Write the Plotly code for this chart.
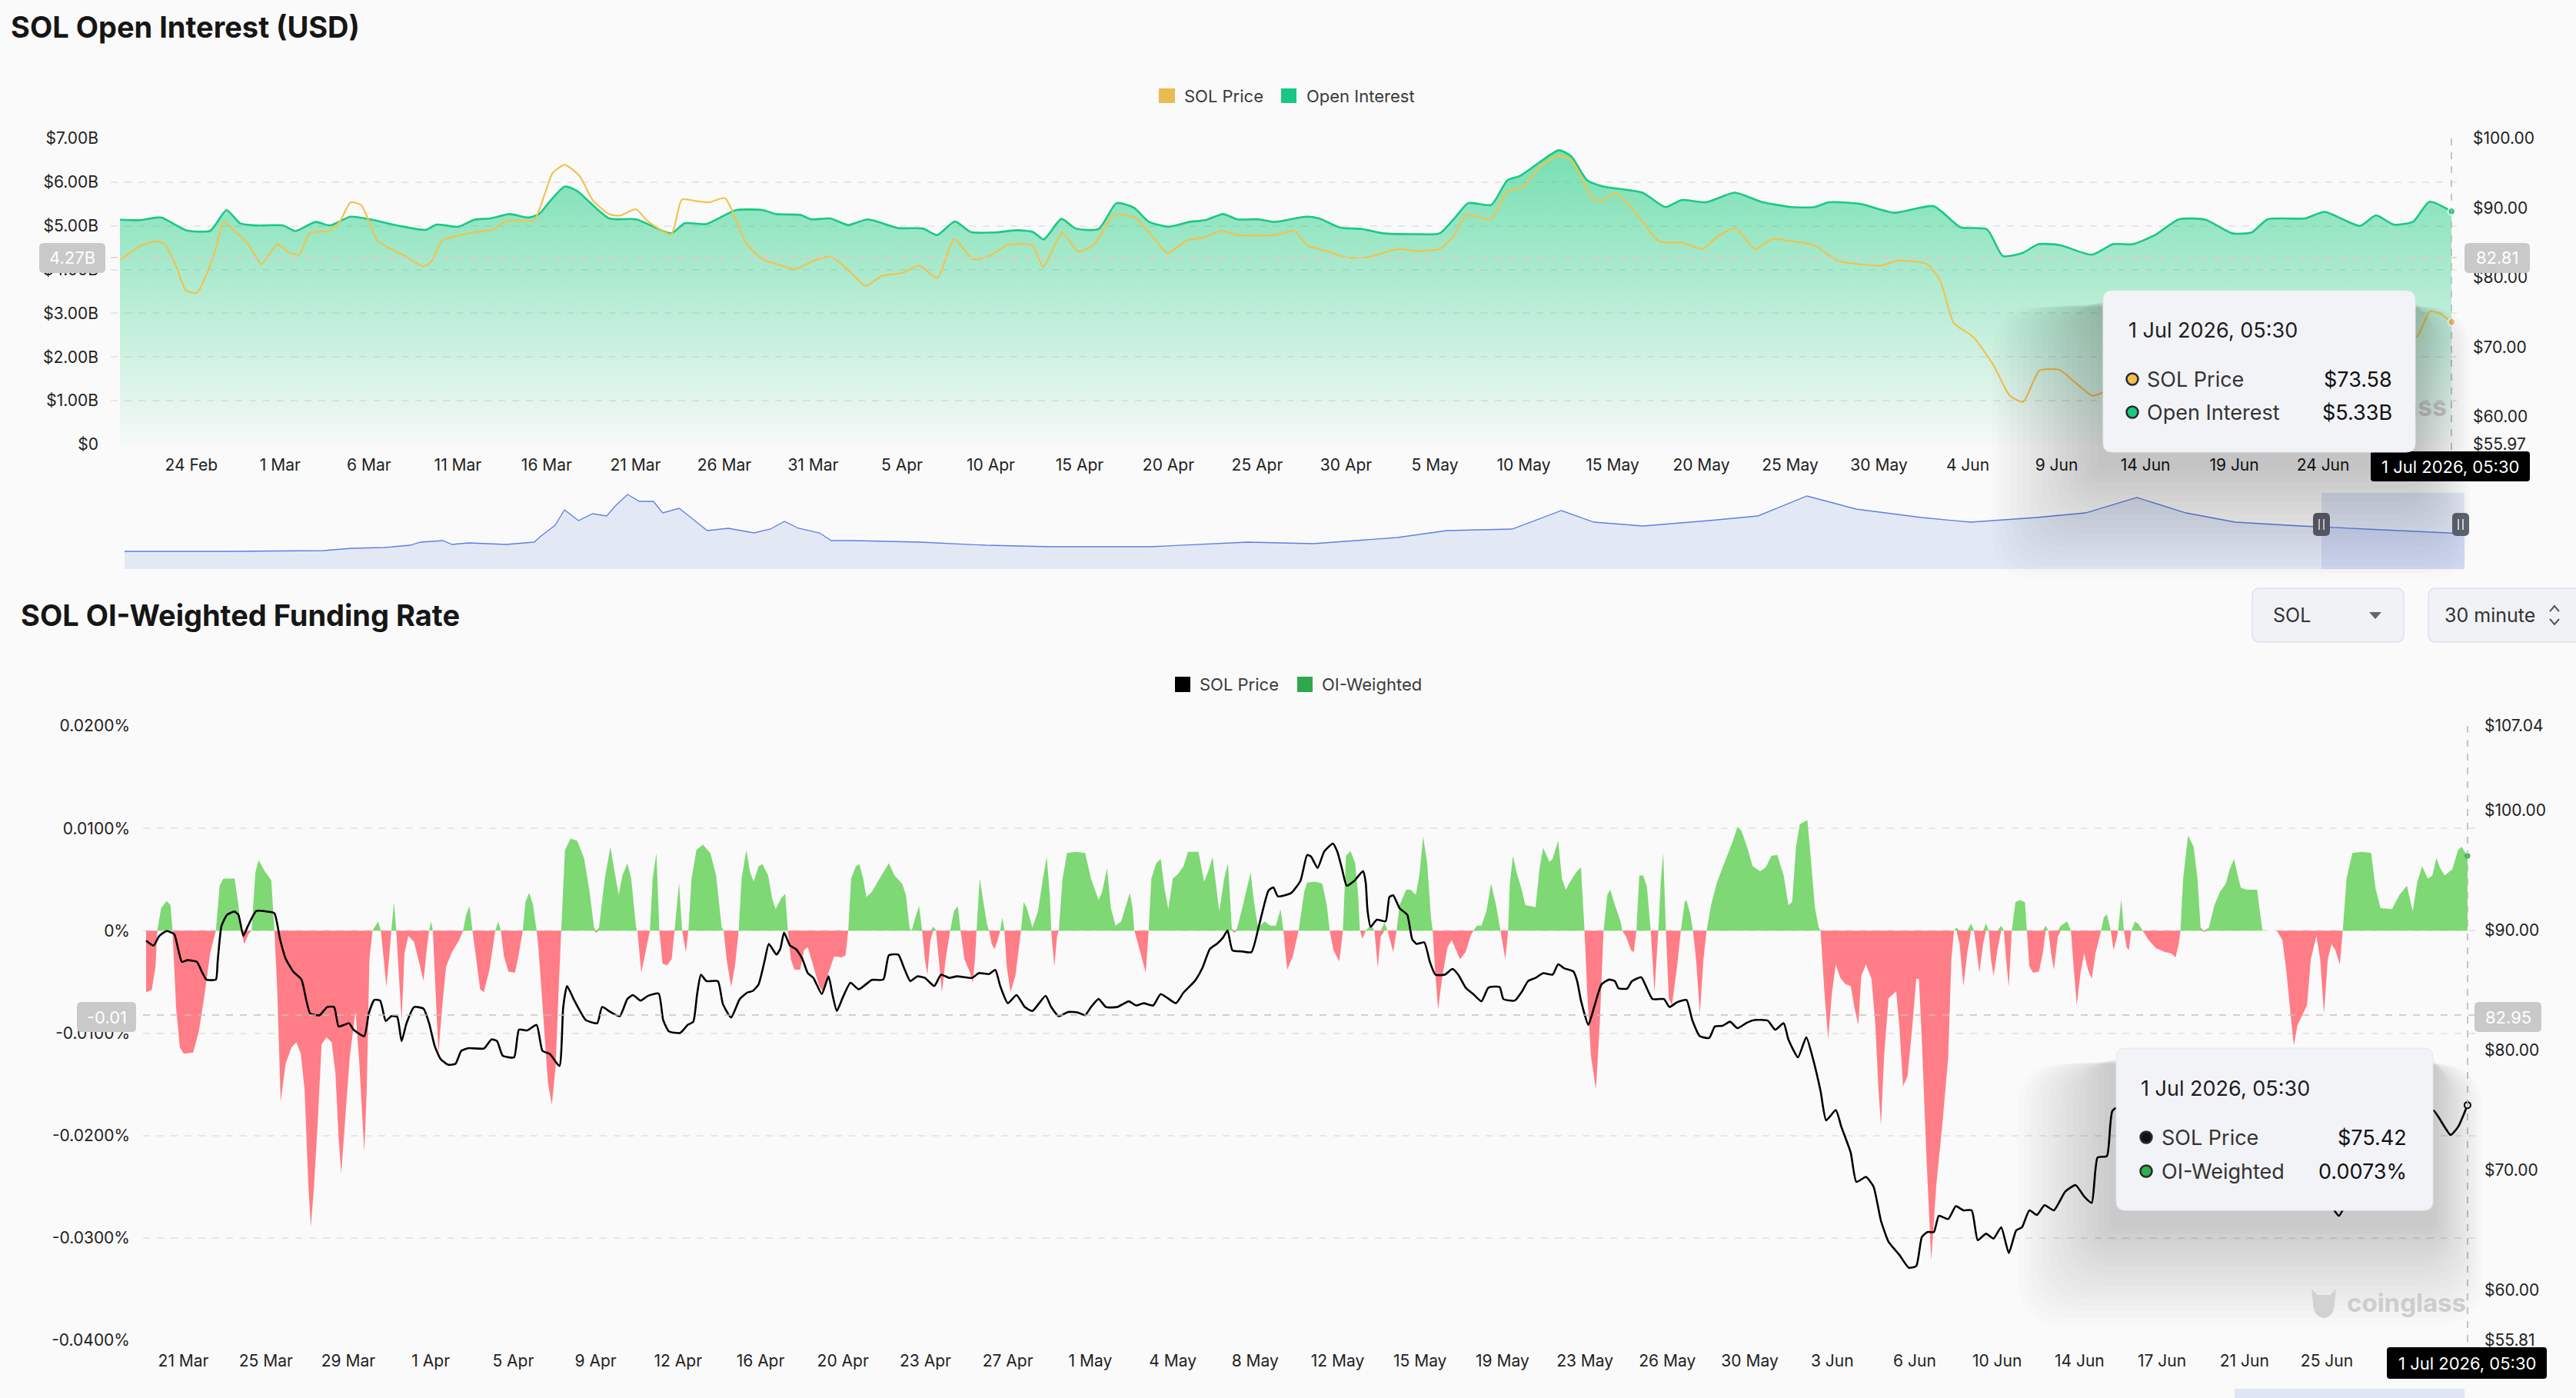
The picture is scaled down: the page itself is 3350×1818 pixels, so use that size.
import plotly.graph_objects as go
import pandas as pd

W, H = 3350, 1818
FONT = "Inter, Noto Sans, Roboto, sans-serif"


def X(px):
    return px / W


def Y(py):
    return 1 - py / H


# ============================ DATA ============================
# --- SOL Open Interest chart (days since OI_START) ---
OI_START = pd.Timestamp("2026-02-19 23:30")
OI_END = pd.Timestamp("2026-07-01 05:30")

oi_days = [0.0, 1.14, 2.05, 2.36, 3.72, 5.09, 6.0, 6.76, 7.66, 9.18,
           9.88, 11.0, 11.82, 12.98, 14.19, 15.71, 17.23, 17.83, 19.04, 19.95,
           20.86, 21.93, 22.99, 23.59, 24.2, 25.04, 25.72, 27.54, 29.06, 31.03,
           31.79, 33.0, 34.67, 36.19, 36.94, 38.31, 38.92, 39.98, 41.0, 42.1,
           43.8, 45.2, 46.0, 47.0, 47.9, 49.3, 50.5, 51.4, 52.0, 53.0,
           53.8, 55.1, 56.1, 57.1, 57.9, 59.0, 60.2, 61.1, 62.1, 62.9,
           64.1, 65.0, 66.8, 67.5, 68.7, 69.9, 71.1, 72.9, 74.3, 75.2,
           75.9, 77.2, 78.1, 78.8, 79.9, 81.0, 81.7, 82.6, 83.5, 85.7,
           87.0, 87.9, 89.3, 90.9, 92.4, 94.1, 95.4, 96.2, 98.0, 99.9,
           102.1, 103.6, 105.1, 106.0, 107.1, 108.0, 109.2, 111.0, 112.2, 113.3,
           114.6, 115.9, 117.4, 118.9, 120.0, 120.9, 123.0, 124.1, 126.1, 127.0,
           128.0, 129.1, 130.0, 131.25]
oi_billion = [5.14, 5.13, 5.19, 5.19, 4.90, 4.89, 5.36, 5.06, 5.01, 5.01,
              4.88, 5.09, 5.01, 5.21, 5.14, 5.00, 4.91, 5.03, 4.98, 5.14,
              5.17, 5.27, 5.19, 5.27, 5.56, 5.90, 5.80, 5.17, 5.15, 4.83,
              5.06, 5.04, 5.36, 5.36, 5.27, 5.25, 5.15, 5.17, 5.02, 5.15,
              4.95, 4.94, 4.79, 5.10, 4.86, 4.85, 4.90, 4.86, 4.69, 5.16,
              4.94, 4.93, 5.52, 5.41, 5.10, 4.98, 5.09, 5.13, 5.27, 5.15,
              5.15, 5.09, 5.21, 5.17, 4.96, 4.93, 4.83, 4.81, 4.83, 5.21,
              5.52, 5.48, 6.04, 6.14, 6.45, 6.73, 6.59, 6.04, 5.90, 5.76,
              5.43, 5.59, 5.54, 5.76, 5.55, 5.43, 5.43, 5.54, 5.50, 5.30,
              5.45, 4.97, 4.92, 4.31, 4.38, 4.58, 4.56, 4.34, 4.58, 4.58,
              4.80, 5.15, 5.14, 4.83, 4.85, 5.15, 5.17, 5.32, 5.00, 5.24,
              5.03, 5.10, 5.55, 5.33]

price_oi_days = [0.0, 1.14, 2.05, 2.51, 3.12, 3.72, 4.33, 4.93, 5.39, 5.85,
                 6.45, 7.21, 7.97, 8.42, 8.88, 9.49, 10.09, 10.7, 11.76, 12.37,
                 12.98, 13.58, 14.49, 15.25, 16.01, 17.07, 17.53, 18.13, 19.04, 19.95,
                 21.01, 21.78, 23.29, 23.9, 24.35, 25.04, 25.87, 26.62, 27.54, 28.14,
                 29.06, 29.66, 31.03, 31.63, 32.39, 33.15, 34.06, 34.67, 35.28, 36.19,
                 37.25, 38.0, 39.07, 39.98, 40.9, 41.97, 42.88, 44.09, 45.0, 46.0,
                 46.97, 48.03, 48.95, 50.0, 51.37, 51.98, 53.04, 53.95, 54.87, 55.93,
                 57.15, 58.06, 58.97, 60.03, 61.09, 62.0, 62.91, 65.04, 66.1, 66.86,
                 68.07, 68.98, 70.19, 72.02, 72.93, 74.29, 75.05, 75.81, 77.18, 78.09,
                 79.0, 79.91, 80.97, 81.73, 82.95, 83.4, 84.2, 85.35, 86.65, 87.95,
                 89.07, 90.0, 90.93, 92.05, 92.98, 94.66, 95.4, 96.7, 99.12, 100.06,
                 101.73, 102.48, 103.22, 104.34, 105.46, 106.39, 107.13, 108.06, 109.18, 110.11,
                 111.04, 111.7, 112.7, 113.4, 113.7, 114.1, 114.4, 114.7, 115.1, 115.4,
                 116.0, 117.0, 118.0, 119.0, 120.0, 121.0, 122.0, 123.0, 124.0, 125.0,
                 125.5, 126.0, 127.0, 128.0, 129.3, 130.03, 130.6, 131.25]
price_oi = [82.5, 84.5, 85.2, 84.8, 81.9, 78.1, 77.8, 80.8, 84.1, 88.0,
            86.7, 84.8, 81.9, 83.4, 84.8, 83.6, 83.3, 86.4, 86.7, 88.0,
            90.8, 90.4, 85.3, 84.1, 83.1, 81.6, 82.3, 85.3, 86.0, 86.5,
            86.9, 88.2, 88.2, 91.9, 95.0, 96.2, 94.6, 91.1, 89.1, 88.9,
            89.8, 88.2, 86.2, 91.2, 91.0, 90.8, 91.4, 88.3, 84.8, 82.6,
            81.7, 81.2, 82.4, 83.0, 81.3, 78.8, 80.2, 80.7, 81.7, 79.9,
            85.5, 82.6, 83.1, 84.7, 84.6, 81.5, 86.4, 83.7, 84.8, 89.0,
            88.6, 86.1, 83.5, 85.3, 85.8, 86.7, 86.1, 86.1, 86.7, 84.6,
            83.7, 82.9, 82.9, 84.1, 83.8, 84.1, 85.9, 89.0, 88.4, 92.4,
            93.0, 95.9, 97.5, 96.8, 91.2, 91.0, 92.1, 89.2, 85.2, 85.0,
            84.1, 86.0, 87.1, 84.1, 85.5, 85.0, 84.6, 82.4, 81.7, 82.4,
            81.9, 79.5, 73.5, 71.4, 67.4, 63.0, 62.1, 66.6, 66.7, 64.8,
            63.0, 63.6, 66.7, 68.2, 68.7, 67.8, 67.3, 71.0, 71.2, 74.5,
            75.3, 73.8, 75.5, 74.0, 75.8, 74.5, 72.8, 73.5, 70.5, 68.0,
            66.0, 67.5, 70.0, 71.5, 71.5, 75.1, 74.8, 73.58]

# navigator (long OI history, position in % of timeline, relative level)
nav_history = [(0.0, 0.23), (4.5, 0.23), (8.5, 0.24), (9.7, 0.27), (11.1, 0.28), (12.2, 0.31),
               (12.65, 0.35), (13.6, 0.37), (14.0, 0.32), (14.7, 0.34), (16.3, 0.32), (17.5, 0.35),
               (17.8, 0.43), (18.4, 0.57), (18.8, 0.77), (19.4, 0.63), (20.0, 0.72), (20.6, 0.69),
               (21.0, 0.83), (21.5, 0.97), (22.0, 0.88), (22.6, 0.88), (23.0, 0.73), (23.7, 0.79),
               (24.2, 0.67), (24.9, 0.50), (25.8, 0.53), (26.9, 0.47), (27.6, 0.52), (28.2, 0.62),
               (28.8, 0.53), (29.7, 0.47), (30.2, 0.37), (31.2, 0.37), (34.0, 0.35), (36.8, 0.31),
               (39.6, 0.29), (43.8, 0.29), (48.0, 0.35), (50.8, 0.33), (54.4, 0.41), (56.5, 0.50),
               (59.3, 0.52), (61.4, 0.76), (62.8, 0.61), (64.9, 0.56), (67.7, 0.63), (69.8, 0.69),
               (71.9, 0.95), (74.0, 0.78), (76.8, 0.67), (78.9, 0.61), (81.7, 0.67), (83.8, 0.73),
               (86.0, 0.93), (88.1, 0.73), (90.2, 0.61), (93.0, 0.56), (95.8, 0.52), (98.6, 0.48),
               (100.0, 0.46)]

# --- SOL OI-Weighted Funding Rate chart (days since FR_START, rate in %) ---
FR_START = pd.Timestamp("2026-03-19 09:00")
FR_END = pd.Timestamp("2026-07-01 05:30")

funding = [
    (0.00, -0.0060), (0.25, -0.0058), (0.42, -0.0035), (0.50, 0), (0.67, 0.0022), (0.92, 0.0029),
    (1.09, 0.0025), (1.18, 0), (1.345, -0.0076), (1.51, -0.0114), (1.68, -0.0120), (2.105, -0.0119),
    (2.36, -0.0098), (2.61, -0.0063), (2.865, -0.0022), (3.12, 0), (3.29, 0.0044), (3.46, 0.0051),
    (3.96, 0.0051), (4.13, 0.0025), (4.25, 0), (4.39, -0.0013), (4.59, -0.0003), (4.72, 0),
    (4.89, 0.0057), (5.03, 0.0069), (5.31, 0.0058), (5.60, 0.0049), (5.74, 0), (5.87, -0.0060),
    (6.02, -0.0167), (6.24, -0.0130), (6.50, -0.0114), (6.72, -0.0109), (6.92, -0.0120), (7.09, -0.0155),
    (7.26, -0.0250), (7.37, -0.0289), (7.51, -0.0250), (7.68, -0.0186), (7.85, -0.0111), (8.07, -0.0104),
    (8.30, -0.0109), (8.47, -0.0139), (8.61, -0.0202), (8.73, -0.0237), (8.91, -0.0186), (9.11, -0.0123),
    (9.37, -0.0079), (9.54, -0.0130), (9.76, -0.0216), (9.87, -0.0155), (9.99, -0.0028), (10.13, 0),
    (10.38, 0.0009), (10.50, 0), (10.63, -0.0028), (10.75, -0.0055), (10.89, -0.0022), (10.97, 0),
    (11.09, 0.0028), (11.19, 0), (11.31, -0.0044), (11.43, -0.0088), (11.56, -0.0022), (11.73, -0.0005),
    (11.99, -0.0011), (12.24, -0.0035), (12.41, -0.0049), (12.58, -0.0013), (12.66, 0), (12.75, 0.0009),
    (12.83, 0), (12.95, -0.0060), (13.08, -0.0120), (13.25, -0.0073), (13.42, -0.0035), (13.68, -0.0021),
    (14.01, -0.0009), (14.18, 0), (14.32, 0.0016), (14.47, 0.0024), (14.60, 0), (14.77, -0.0028),
    (14.94, -0.0057), (15.11, -0.0060), (15.36, -0.0038), (15.62, 0), (15.75, 0.0009), (15.87, 0),
    (16.01, -0.0025), (16.21, -0.0040), (16.50, -0.0041), (16.63, -0.0028), (16.85, 0), (16.97, 0.0028),
    (17.14, 0.0037), (17.31, 0.0025), (17.47, 0), (17.56, -0.0019), (17.81, -0.0092), (17.98, -0.0149),
    (18.15, -0.0170), (18.32, -0.0133), (18.45, -0.0060), (18.57, 0), (18.74, 0.0079), (18.99, 0.0090),
    (19.28, 0.0088), (19.59, 0.0071), (19.84, 0.0038), (20.04, 0.0003), (20.14, -0.0002), (20.26, 0.0003),
    (20.52, 0.0051), (20.77, 0.0082), (20.94, 0.0060), (21.14, 0.0035), (21.31, 0.0054), (21.53, 0.0066),
    (21.70, 0.0051), (21.92, 0.0003), (21.98, 0), (22.15, -0.0041), (22.37, -0.0019), (22.54, 0),
    (22.66, 0.0051), (22.83, 0.0076), (22.96, 0), (23.10, -0.0032), (23.30, -0.0034), (23.51, -0.0028),
    (23.64, 0), (23.84, 0.0047), (23.98, 0), (24.15, -0.0021), (24.26, 0), (24.40, 0.0051),
    (24.62, 0.0079), (24.91, 0.0084), (25.24, 0.0076), (25.50, 0.0054), (25.75, 0.0003), (25.84, 0),
    (25.97, -0.0028), (26.17, -0.0055), (26.34, -0.0035), (26.51, 0), (26.64, 0.0051), (26.85, 0.0079),
    (27.02, 0.0057), (27.18, 0.0048), (27.40, 0.0063), (27.57, 0.0065), (27.83, 0.0054), (28.00, 0.0032),
    (28.16, 0.0021), (28.42, 0.0032), (28.59, 0.0036), (28.71, 0), (28.84, -0.0028), (29.01, -0.0038),
    (29.26, -0.0038), (29.43, -0.0019), (29.60, -0.0016), (29.85, -0.0035), (30.11, -0.0054), (30.28, -0.0060),
    (30.53, -0.0041), (30.78, -0.0025), (31.12, -0.0026), (31.29, -0.0024), (31.41, 0), (31.54, 0.0051),
    (31.75, 0.0063), (31.91, 0.0065), (32.08, 0.0051), (32.22, 0.0033), (32.47, 0.0038), (32.81, 0.0051),
    (33.06, 0.0060), (33.23, 0.0066), (33.48, 0.0054), (33.82, 0.0046), (33.99, 0.0035), (34.16, 0.0002),
    (34.25, 0), (34.41, 0.0013), (34.58, 0.0024), (34.72, 0), (34.84, -0.0028), (34.95, -0.0043),
    (35.09, -0.0009), (35.22, 0.0004), (35.34, 0), (35.46, -0.0028), (35.60, -0.0060), (35.77, -0.0028),
    (35.97, 0), (36.14, 0.0019), (36.31, 0.0024), (36.44, 0), (36.61, -0.0028), (36.86, -0.0041),
    (36.98, -0.0051), (37.08, -0.0028), (37.15, 0), (37.29, 0.0051), (37.45, 0.0028), (37.62, 0.0006),
    (37.71, 0), (37.83, -0.0013), (37.96, -0.0018), (38.10, -0.0009), (38.21, 0), (38.30, 0.0013),
    (38.40, 0), (38.50, -0.0035), (38.67, -0.0060), (38.89, -0.0044), (39.06, -0.0013), (39.14, 0),
    (39.26, 0.0028), (39.40, 0.0022), (39.65, 0.0003), (39.90, 0.0019), (40.12, 0.0051), (40.29, 0.0072),
    (40.43, 0.0035), (40.49, 0), (40.63, -0.0035), (40.75, -0.0006), (40.83, 0), (41.00, 0.0051),
    (41.20, 0.0076), (41.59, 0.0077), (42.01, 0.0076), (42.27, 0.0051), (42.61, 0.0030), (42.77, 0.0038),
    (42.99, 0.0061), (43.16, 0.0022), (43.37, 0.0005), (43.62, 0.0009), (43.84, 0.0025), (44.01, 0.0037),
    (44.13, 0.0022), (44.21, 0), (44.38, -0.0013), (44.55, -0.0028), (44.72, -0.0041), (44.85, 0),
    (44.97, 0.0051), (45.19, 0.0066), (45.39, 0.0070), (45.56, 0.0041), (45.73, 0.0021), (45.93, 0.0051),
    (46.15, 0.0055), (46.41, 0.0063), (46.61, 0.0077), (47.08, 0.0077), (47.33, 0.0048), (47.50, 0.0057),
    (47.71, 0.0072), (47.84, 0.0047), (48.01, 0.0019), (48.23, 0.0051), (48.40, 0.0066), (48.57, 0.0002),
    (48.70, -0.0002), (48.80, 0.0002), (49.07, 0.0025), (49.41, 0.0057), (49.58, 0.0025), (49.75, 0.0003),
    (50.04, 0.0009), (50.29, 0.0005), (50.54, 0.0005), (50.75, 0.0021), (50.88, 0), (51.05, -0.0038),
    (51.30, -0.0025), (51.56, 0), (51.81, 0.0038), (51.94, 0.0047), (52.28, 0.0048), (52.62, 0.0046),
    (52.82, 0.0025), (52.95, 0), (53.12, -0.0019), (53.38, -0.0030), (53.54, 0), (53.68, 0.0073),
    (53.88, 0.0078), (54.09, 0.0066), (54.22, 0.0035), (54.30, 0), (54.42, -0.0008), (54.56, 0),
    (54.81, 0.0006), (54.95, 0), (55.10, -0.0036), (55.23, -0.0006), (55.40, 0.0008), (55.54, 0),
    (55.79, -0.0021), (55.94, 0), (56.08, 0.0025), (56.37, 0.0040), (56.58, 0.0040), (56.80, 0.0035),
    (56.96, 0.0054), (57.13, 0.0092), (57.31, 0.0066), (57.48, 0.0013), (57.56, 0), (57.68, -0.0044),
    (57.80, -0.0077), (57.97, -0.0047), (58.22, -0.0016), (58.41, -0.0009), (58.61, -0.0019), (58.78, -0.0028),
    (59.03, -0.0021), (59.24, -0.0006), (59.37, 0), (59.54, 0.0005), (59.74, 0.0005), (59.96, 0.0019),
    (60.17, 0.0046), (60.39, 0.0025), (60.59, 0), (60.69, -0.0013), (60.81, -0.0028), (60.93, 0),
    (61.01, 0.0047), (61.15, 0.0073), (61.31, 0.0057), (61.53, 0.0041), (61.70, 0.0025), (62.16, 0.0023),
    (62.33, 0.0060), (62.50, 0.0081), (62.78, 0.0067), (62.92, 0.0070), (63.17, 0.0088), (63.34, 0.0051),
    (63.51, 0.0040), (63.68, 0.0047), (63.97, 0.0057), (64.19, 0.0062), (64.35, 0), (64.47, -0.0060),
    (64.64, -0.0123), (64.86, -0.0155), (65.03, -0.0092), (65.20, 0), (65.37, 0.0035), (65.50, 0.0040),
    (65.71, 0.0025), (65.96, 0.0009), (66.04, 0), (66.21, -0.0006), (66.43, -0.0019), (66.55, -0.0021),
    (66.67, 0), (66.80, 0.0054), (66.97, 0.0054), (67.14, 0.0043), (67.31, 0), (67.48, -0.0060),
    (67.65, 0), (67.77, 0.0051), (67.87, 0.0076), (67.99, 0), (68.12, -0.0066), (68.26, -0.0073),
    (68.49, -0.0035), (68.66, 0), (68.83, 0.0028), (68.91, 0.0030), (69.08, 0.0016), (69.20, 0),
    (69.34, -0.0028), (69.51, -0.0081), (69.67, -0.0028), (69.81, 0), (70.01, 0.0025), (70.27, 0.0047),
    (70.60, 0.0066), (70.94, 0.0085), (71.19, 0.0101), (71.36, 0.0098), (71.62, 0.0082), (71.87, 0.0063),
    (72.21, 0.0058), (72.46, 0.0062), (72.71, 0.0073), (72.97, 0.0074), (73.26, 0.0054), (73.47, 0.0025),
    (73.64, 0.0028), (73.81, 0.0082), (73.98, 0.0104), (74.32, 0.0108), (74.49, 0.0066), (74.66, 0.0022),
    (74.83, 0.0003), (74.91, 0), (75.08, -0.0060), (75.25, -0.0106), (75.42, -0.0060), (75.59, -0.0033),
    (75.79, -0.0046), (76.01, -0.0052), (76.26, -0.0054), (76.43, -0.0076), (76.60, -0.0092), (76.73, -0.0044),
    (76.94, -0.0033), (77.19, -0.0047), (77.36, -0.0092), (77.50, -0.0155), (77.61, -0.0190), (77.75, -0.0123),
    (77.95, -0.0066), (78.29, -0.0059), (78.43, -0.0092), (78.60, -0.0152), (78.80, -0.0142), (79.02, -0.0092),
    (79.19, -0.0047), (79.31, -0.0047), (79.44, -0.0107), (79.64, -0.0218), (79.86, -0.0322), (80.08, -0.0250),
    (80.37, -0.0186), (80.62, -0.0123), (80.76, -0.0028), (80.88, 0), (80.99, 0.0003), (81.13, -0.0013),
    (81.30, -0.0054), (81.47, -0.0022), (81.64, 0.0007), (81.77, 0), (81.89, -0.0019), (82.01, -0.0041),
    (82.18, -0.0013), (82.31, 0.0007), (82.43, 0), (82.53, -0.0028), (82.65, -0.0044), (82.82, -0.0019),
    (82.99, 0.0005), (83.11, 0), (83.21, -0.0028), (83.33, -0.0055), (83.46, 0), (83.63, 0.0028),
    (83.83, 0.0030), (84.05, 0.0028), (84.14, 0), (84.25, -0.0035), (84.42, -0.0041), (84.68, -0.0040),
    (84.85, -0.0022), (84.98, 0.0005), (85.10, 0), (85.22, -0.0022), (85.35, -0.0038), (85.52, -0.0006),
    (85.66, 0.0005), (85.94, 0.0009), (86.11, 0), (86.23, -0.0035), (86.37, -0.0073), (86.54, -0.0041),
    (86.70, -0.0022), (86.87, -0.0038), (87.04, -0.0047), (87.21, -0.0022), (87.46, 0), (87.58, 0.0013),
    (87.72, 0.0016), (87.89, 0), (88.02, -0.0019), (88.14, -0.0009), (88.22, 0), (88.36, 0.0031),
    (88.48, 0), (88.60, -0.0016), (88.70, -0.0019), (88.81, 0), (88.98, 0.0009), (89.15, 0.0006),
    (89.32, 0), (89.58, -0.0009), (89.91, -0.0017), (90.34, -0.0021), (90.59, -0.0022), (90.79, -0.0026),
    (90.93, -0.0013), (91.01, 0), (91.13, 0.0051), (91.35, 0.0093), (91.60, 0.0082), (91.77, 0.0051),
    (91.91, 0.0003), (92.07, -0.0001), (92.28, 0.0003), (92.53, 0.0025), (92.78, 0.0038), (93.04, 0.0046),
    (93.21, 0.0060), (93.41, 0.0070), (93.54, 0.0057), (93.71, 0.0042), (93.97, 0.0040), (94.44, 0.0040),
    (94.56, 0.0019), (94.68, 0), (95.32, 0), (95.57, -0.0009), (95.74, -0.0038), (95.91, -0.0076),
    (96.08, -0.0112), (96.25, -0.0092), (96.50, -0.0081), (96.67, -0.0073), (96.84, -0.0028), (97.09, -0.0005),
    (97.26, -0.0028), (97.43, -0.0081), (97.60, -0.0028), (97.77, -0.0013), (97.94, -0.0019), (98.14, -0.0033),
    (98.27, 0), (98.44, 0.0051), (98.70, 0.0076), (99.12, 0.0077), (99.54, 0.0076), (99.74, 0.0041),
    (99.96, 0.0022), (100.47, 0.0021), (100.81, 0.0035), (101.14, 0.0044), (101.40, 0.0019), (101.60, 0.0047),
    (101.82, 0.0063), (102.07, 0.0051), (102.28, 0.0054), (102.46, 0.0071), (102.61, 0.0062), (102.83, 0.0054),
    (103.17, 0.0060), (103.43, 0.0079), (103.59, 0.0082), (103.85, 0.0073)]

price_fr = [
    (0.00, 89.13), (0.33, 88.72), (0.59, 89.53), (0.92, 89.94), (1.26, 89.67), (1.43, 88.45), (1.60, 87.37),
    (1.85, 87.51), (2.27, 87.37), (2.49, 86.56), (2.70, 85.89), (3.12, 85.89), (3.20, 87.37), (3.37, 90.34),
    (3.62, 91.29), (3.96, 91.56), (4.13, 91.29), (4.35, 89.53), (4.55, 90.34), (4.93, 91.61), (5.40, 91.56),
    (5.74, 91.42), (5.99, 89.26), (6.24, 87.65), (6.58, 86.56), (6.95, 85.89), (7.17, 84.14), (7.34, 83.06),
    (7.76, 82.92), (8.10, 83.60), (8.41, 83.60), (8.61, 81.98), (8.86, 82.11), (9.08, 82.25), (9.28, 81.71),
    (9.76, 81.17), (9.96, 83.06), (10.21, 84.19), (10.47, 84.14), (10.72, 82.44), (10.97, 82.84), (11.23, 82.79),
    (11.43, 80.76), (11.65, 82.25), (11.99, 83.60), (12.41, 83.46), (12.66, 82.25), (12.91, 80.36), (13.17, 79.28),
    (13.51, 78.79), (13.84, 78.87), (14.10, 79.95), (14.43, 80.17), (15.11, 80.14), (15.45, 80.90), (15.70, 80.76),
    (15.95, 79.55), (16.46, 79.41), (16.68, 81.71), (17.05, 81.65), (17.47, 82.11), (17.73, 79.95), (18.07, 79.68),
    (18.49, 78.68), (18.66, 83.60), (18.83, 85.35), (19.16, 84.14), (19.67, 82.52), (20.18, 82.25), (20.40, 83.60),
    (20.77, 83.19), (21.19, 82.84), (21.53, 84.27), (21.78, 84.60), (22.12, 84.14), (22.46, 84.54), (22.93, 84.73),
    (23.13, 82.52), (23.39, 81.57), (23.89, 81.44), (24.23, 82.11), (24.48, 82.38), (24.65, 84.68), (24.82, 86.30),
    (25.07, 85.76), (25.58, 85.76), (25.80, 83.87), (26.17, 82.73), (26.56, 84.27), (26.90, 84.81), (27.15, 84.95),
    (27.40, 85.49), (27.66, 87.37), (27.86, 88.86), (28.20, 87.97), (28.37, 88.45), (28.54, 89.80), (28.81, 88.72),
    (29.09, 88.40), (29.35, 87.65), (29.60, 86.43), (29.85, 86.03), (30.23, 84.68), (30.53, 86.16), (30.70, 84.68),
    (30.90, 83.27), (31.17, 84.41), (31.51, 85.62), (31.88, 85.08), (32.47, 85.86), (32.98, 85.89), (33.23, 87.91),
    (33.65, 87.97), (33.91, 86.84), (34.19, 85.76), (34.50, 86.16), (34.84, 86.03), (35.26, 85.35), (35.56, 86.30),
    (35.93, 86.03), (36.27, 86.16), (36.95, 86.03), (37.25, 86.43), (37.71, 86.35), (37.99, 86.70), (38.21, 85.35),
    (38.55, 83.92), (38.94, 84.60), (39.31, 83.60), (39.65, 83.27), (40.24, 84.54), (40.49, 83.60), (40.83, 82.84),
    (41.25, 83.19), (41.68, 83.14), (42.01, 82.92), (42.27, 83.60), (42.61, 84.27), (42.94, 83.60), (43.45, 83.60),
    (43.96, 84.08), (44.29, 83.73), (44.63, 83.92), (45.05, 83.73), (45.39, 84.68), (46.07, 83.92), (46.41, 84.81),
    (46.91, 85.76), (47.25, 86.84), (47.59, 88.45), (47.93, 88.91), (48.18, 89.40), (48.38, 89.99), (48.60, 88.32),
    (49.02, 88.24), (49.45, 88.18), (49.78, 90.34), (50.21, 93.31), (50.43, 93.58), (50.63, 92.83), (51.22, 93.10),
    (51.64, 94.12), (51.94, 96.28), (52.11, 96.15), (52.41, 95.20), (52.70, 96.55), (53.09, 97.23), (53.29, 96.55),
    (53.49, 95.20), (53.71, 93.72), (54.05, 94.12), (54.44, 94.93), (54.56, 93.99), (54.64, 91.69), (54.78, 90.29),
    (55.06, 90.88), (55.45, 90.75), (55.62, 92.77), (55.79, 92.91), (56.08, 91.83), (56.42, 91.29), (56.64, 89.26),
    (56.84, 88.86), (57.18, 88.99), (57.43, 87.37), (57.68, 86.30), (58.10, 86.30), (58.44, 86.78), (58.70, 86.30),
    (59.03, 85.22), (59.37, 84.68), (59.74, 84.08), (60.05, 85.22), (60.55, 85.27), (60.72, 84.27), (61.23, 84.14),
    (61.57, 84.95), (61.82, 85.76), (62.16, 86.03), (62.50, 86.43), (62.92, 86.30), (63.17, 87.16), (63.43, 86.84),
    (63.85, 86.57), (64.02, 85.76), (64.19, 84.14), (64.52, 82.11), (64.78, 83.60), (65.11, 85.49), (65.45, 85.89),
    (65.71, 85.76), (65.87, 85.16), (66.26, 85.14), (66.47, 85.76), (66.89, 86.08), (67.06, 85.49), (67.39, 84.27),
    (67.90, 84.27), (68.15, 83.60), (68.49, 84.00), (68.91, 84.19), (69.17, 82.52), (69.51, 81.17), (69.93, 81.03),
    (70.18, 81.98), (70.52, 82.03), (70.86, 82.38), (71.19, 81.84), (71.62, 82.30), (71.95, 82.52), (72.55, 82.46),
    (72.88, 81.71), (73.26, 82.25), (73.47, 80.90), (73.90, 79.41), (74.27, 81.09), (74.57, 79.28), (74.91, 76.58),
    (75.16, 74.15), (75.59, 75.01), (75.84, 73.61), (76.26, 71.45), (76.51, 69.02), (76.94, 69.43), (77.28, 68.62),
    (77.61, 65.78), (77.95, 64.03), (78.43, 62.95), (78.85, 61.87), (79.19, 62.00), (79.44, 64.43), (79.69, 64.84),
    (79.98, 64.84), (80.20, 66.19), (80.62, 65.92), (80.96, 67.00), (81.30, 66.65), (81.67, 66.65), (81.94, 64.16),
    (82.31, 64.70), (82.65, 64.30), (82.99, 65.24), (83.33, 63.09), (83.66, 64.97), (83.92, 65.24), (84.25, 66.65),
    (84.59, 66.27), (84.93, 67.08), (85.35, 66.65), (85.86, 68.22), (86.32, 68.75), (86.70, 67.81), (87.04, 67.27),
    (87.30, 71.05), (87.72, 71.18), (87.97, 74.96), (88.6, 75.5), (89.4, 74.0), (90.2, 76.0), (91.0, 74.5),
    (91.8, 76.5), (92.8, 75.0), (93.8, 73.0), (94.8, 74.0), (95.8, 71.0), (96.8, 69.5), (97.6, 67.5),
    (98.10, 66.19), (98.6, 68.0), (99.5, 70.5), (100.5, 72.0), (101.3, 73.5), (101.9, 74.5), (102.33, 74.96),
    (103.09, 72.94), (103.43, 73.61), (103.85, 75.42)]

# axis ticks / labels
oi_ticks = [0, 1e9, 2e9, 3e9, 4e9, 5e9, 6e9, 7e9]
oi_tick_text = ["$0", "$1.00B", "$2.00B", "$3.00B", "$4.00B", "$5.00B", "$6.00B", "$7.00B"]
price_oi_ticks = [55.97, 60, 70, 80, 90, 100]
price_oi_tick_text = ["$55.97", "$60.00", "$70.00", "$80.00", "$90.00", "$100.00"]
fr_ticks = [0.02, 0.01, 0, -0.01, -0.02, -0.03, -0.04]
fr_tick_text = ["0.0200%", "0.0100%", "0%", "-0.0100%", "-0.0200%", "-0.0300%", "-0.0400%"]
price_fr_ticks = [55.81, 60, 70, 80, 90, 100, 107.04]
price_fr_tick_text = ["$55.81", "$60.00", "$70.00", "$80.00", "$90.00", "$100.00", "$107.04"]
bottom_tick_labels = ["21 Mar", "25 Mar", "29 Mar", "1 Apr", "5 Apr", "9 Apr", "12 Apr", "16 Apr",
                      "20 Apr", "23 Apr", "27 Apr", "1 May", "4 May", "8 May", "12 May", "15 May",
                      "19 May", "23 May", "26 May", "30 May", "3 Jun", "6 Jun", "10 Jun", "14 Jun",
                      "17 Jun", "21 Jun", "25 Jun"]

# ============================ BUILD ============================
D = lambda d: pd.Timedelta(days=d)

oi_x = [OI_START + D(d) for d in oi_days]
oi_y = [v * 1e9 for v in oi_billion]
pt_x = [OI_START + D(d) for d in price_oi_days]
fr_x = [FR_START + D(d) for d, _ in funding]
fr_pos = [max(v, 0) for _, v in funding]
fr_neg = [min(v, 0) for _, v in funding]
pf_x = [FR_START + D(d) for d, _ in price_fr]
pf_y = [p for _, p in price_fr]

top_ticks = list(pd.date_range("2026-02-24", periods=25, freq="5D"))
top_tick_text = [f"{t.day} {t:%b}" for t in top_ticks]
bottom_ticks = [FR_START + D(1.67 + 3.688 * k) for k in range(len(bottom_tick_labels))]

GREEN = "#19c985"
YELLOW = "#f2c24c"

fig = go.Figure()
fig.add_trace(go.Scatter(
    x=oi_x, y=oi_y, xaxis="x", yaxis="y", mode="lines",
    line=dict(color=GREEN, width=2.6, shape="spline", smoothing=0.6),
    fill="tozeroy",
    fillgradient=dict(type="vertical", start=0, stop=7e9,
                      colorscale=[[0, "rgba(28,205,128,0.02)"], [1, "rgba(28,205,128,0.62)"]]),
    hoverinfo="skip", showlegend=False))
fig.add_trace(go.Scatter(
    x=pt_x, y=price_oi, xaxis="x", yaxis="y2", mode="lines",
    line=dict(color=YELLOW, width=2.2, shape="spline", smoothing=0.6),
    hoverinfo="skip", showlegend=False))
fig.add_trace(go.Scatter(x=[oi_x[-1]], y=[oi_y[-1]], xaxis="x", yaxis="y", mode="markers",
                         marker=dict(size=9, color=GREEN, line=dict(color="#ffffff", width=1.5)),
                         hoverinfo="skip", showlegend=False))
fig.add_trace(go.Scatter(x=[pt_x[-1]], y=[price_oi[-1]], xaxis="x", yaxis="y2", mode="markers",
                         marker=dict(size=9, color=YELLOW, line=dict(color="#ffffff", width=1.5)),
                         hoverinfo="skip", showlegend=False))
# navigator
fig.add_trace(go.Scatter(
    x=[t for t, _ in nav_history], y=[v for _, v in nav_history], xaxis="x3", yaxis="y5",
    mode="lines", line=dict(color="#5c80e4", width=1.3), fill="tozeroy", fillcolor="#e3e8f5",
    hoverinfo="skip", showlegend=False))
# funding rate areas
fig.add_trace(go.Scatter(x=fr_x, y=fr_pos, xaxis="x2", yaxis="y3", mode="lines",
                         line=dict(width=0, color="#7ed874"), fill="tozeroy", fillcolor="#7ed874",
                         hoverinfo="skip", showlegend=False))
fig.add_trace(go.Scatter(x=fr_x, y=fr_neg, xaxis="x2", yaxis="y3", mode="lines",
                         line=dict(width=0, color="#ff7d86"), fill="tozeroy", fillcolor="#ff7d86",
                         hoverinfo="skip", showlegend=False))
fig.add_trace(go.Scatter(x=pf_x, y=pf_y, xaxis="x2", yaxis="y4", mode="lines",
                         line=dict(color="#000000", width=2.6, shape="spline", smoothing=0.5),
                         hoverinfo="skip", showlegend=False))
fig.add_trace(go.Scatter(x=[fr_x[-1]], y=[funding[-1][1]], xaxis="x2", yaxis="y3", mode="markers",
                         marker=dict(size=7, color="#2fae4e"), hoverinfo="skip", showlegend=False))
fig.add_trace(go.Scatter(x=[pf_x[-1]], y=[pf_y[-1]], xaxis="x2", yaxis="y4", mode="markers",
                         marker=dict(size=8, color="#ffffff", line=dict(color="#000", width=2)),
                         hoverinfo="skip", showlegend=False))

tickfont = dict(size=21, color="#222", family=FONT)
grid = dict(showgrid=True, gridcolor="#e7e7e7", griddash="dash", gridwidth=1.5)
noauto = dict(automargin=False)

fig.update_layout(
    width=W, height=H, margin=dict(l=0, r=0, t=0, b=0, pad=0, autoexpand=False),
    paper_bgcolor="#fafafa", plot_bgcolor="rgba(0,0,0,0)",
    hovermode=False, showlegend=False,
    xaxis=dict(domain=[X(144), X(3201)], anchor="y", type="date",
               range=[OI_START - D(0.52), OI_END + D(0.56)],
               showgrid=False, zeroline=False, showline=False, ticks="",
               tickvals=top_ticks, ticktext=top_tick_text, tickfont=tickfont,
               ticklabelstandoff=12, **noauto),
    yaxis=dict(domain=[Y(578), Y(180)], anchor="x", range=[0, 7e9],
               tickvals=oi_ticks, ticktext=oi_tick_text, tickfont=tickfont,
               zeroline=False, showline=False, ticks="", ticklabelstandoff=15, **grid, **noauto),
    yaxis2=dict(overlaying="y", anchor="x", side="right", range=[55.97, 100],
                tickvals=price_oi_ticks, ticktext=price_oi_tick_text, tickfont=tickfont,
                showgrid=False, zeroline=False, showline=False, ticks="", ticklabelstandoff=14,
                **noauto),
    xaxis2=dict(domain=[X(186), X(3219)], anchor="y3", type="date",
                range=[FR_START - D(0.138), FR_END + D(0.344)],
                showgrid=False, zeroline=False, showline=False, ticks="",
                tickvals=bottom_ticks, ticktext=bottom_tick_labels, tickfont=tickfont,
                ticklabelstandoff=12, **noauto),
    yaxis3=dict(domain=[Y(1743), Y(944)], anchor="x2", range=[-0.04, 0.02],
                tickvals=fr_ticks, ticktext=fr_tick_text, tickfont=tickfont,
                zeroline=False, showline=False, ticks="", ticklabelstandoff=16, **grid, **noauto),
    yaxis4=dict(overlaying="y3", anchor="x2", side="right", range=[55.81, 107.04],
                tickvals=price_fr_ticks, ticktext=price_fr_tick_text, tickfont=tickfont,
                showgrid=False, zeroline=False, showline=False, ticks="", ticklabelstandoff=11,
                **noauto),
    xaxis3=dict(domain=[X(162), X(3205)], anchor="y5", range=[0, 100], visible=False, **noauto),
    yaxis5=dict(domain=[Y(740), Y(640)], anchor="x3", range=[0, 1], visible=False, **noauto),
)


# ============================ DECORATIONS ============================
def rpath(x0, y0, x1, y1, r):
    segs = [("M", x0 + r, y0), ("L", x1 - r, y0), ("Q", x1, y0, x1, y0 + r),
            ("L", x1, y1 - r), ("Q", x1, y1, x1 - r, y1), ("L", x0 + r, y1),
            ("Q", x0, y1, x0, y1 - r), ("L", x0, y0 + r), ("Q", x0, y0, x0 + r, y0)]
    out = []
    for s in segs:
        c = s[1:]
        pts = " ".join(f"{X(c[i]):.6f},{Y(c[i + 1]):.6f}" for i in range(0, len(c), 2))
        out.append(s[0] + pts)
    return " ".join(out) + " Z"


def rbox(x0, y0, x1, y1, r, fill, lc=None, lw=0, opacity=1.0):
    return dict(type="path", xref="paper", yref="paper", path=rpath(x0, y0, x1, y1, r),
                fillcolor=fill, line=dict(color=lc or "rgba(0,0,0,0)", width=lw),
                layer="above", opacity=opacity)


def box(x0, y0, x1, y1, fill, lc=None, lw=0):
    return dict(type="rect", xref="paper", yref="paper", x0=X(x0), x1=X(x1), y0=Y(y1), y1=Y(y0),
                fillcolor=fill, line=dict(color=lc or "rgba(0,0,0,0)", width=lw), layer="above")


def hline(x0, x1, y, color, dash="dash", w=1.5):
    return dict(type="line", xref="paper", yref="paper", x0=X(x0), x1=X(x1), y0=Y(y), y1=Y(y),
                line=dict(color=color, width=w, dash=dash), layer="above")


def vline(x, y0, y1, color, dash="dash", w=1.5):
    return dict(type="line", xref="paper", yref="paper", x0=X(x), x1=X(x), y0=Y(y0), y1=Y(y1),
                line=dict(color=color, width=w, dash=dash), layer="above")


def circ(cx, cy, r, fill, lc="#2a2a2a", lw=2.5):
    return dict(type="circle", xref="paper", yref="paper", x0=X(cx - r), x1=X(cx + r),
                y0=Y(cy + r), y1=Y(cy - r), fillcolor=fill, line=dict(color=lc, width=lw),
                layer="above")


def shadow(x0, y0, x1, y1, clip=None, n=18, step=8, alpha=0.013):
    res = []
    for i in range(1, n + 1):
        e = step * i
        oy = 14 + 2.0 * i
        b = y1 + e * 0.8 + oy
        if clip is not None:
            b = min(b, clip)
        res.append(rbox(x0 - e, y0 - e * 0.2 + oy, x1 + e * 0.5, b, min(e, 60),
                        f"rgba(0,0,0,{alpha})"))
    return res


def txt(x, y, s, size=21, color="#222", anchor="left", family=FONT):
    return dict(x=X(x), y=Y(y), xref="paper", yref="paper", text=s, showarrow=False,
                xanchor=anchor, yanchor="middle", font=dict(size=size, color=color, family=family))


shapes = []
ann = []

# titles
ann.append(txt(12, 35, "<b>SOL Open Interest (USD)</b>", size=38, color="#161616"))
ann.append(txt(25, 800, "<b>SOL OI-Weighted Funding Rate</b>", size=38, color="#161616"))

# legends
shapes.append(box(1507, 115, 1528, 134, "#e9bb50"))
ann.append(txt(1538, 124.5, "SOL Price", size=22, color="#3a3a3a"))
shapes.append(box(1666, 115, 1686, 134, "#19c784"))
ann.append(txt(1697, 124.5, "Open Interest", size=22, color="#3a3a3a"))
shapes.append(box(1528, 880, 1548, 900, "#000000"))
ann.append(txt(1558, 890, "SOL Price", size=22, color="#3a3a3a"))
shapes.append(box(1687, 880, 1707, 900, "#2ea84a"))
ann.append(txt(1717, 890, "OI-Weighted", size=22, color="#3a3a3a"))

# navigator selection + handles
shapes.append(box(3019, 641, 3205, 740, "rgba(110,140,225,0.16)"))
for hx in (3019, 3200):
    shapes.append(rbox(hx - 11, 667, hx + 11, 697, 6, "#5f6672"))
    shapes.append(vline(hx - 3, 675, 689, "#ffffff", dash="solid", w=1.5))
    shapes.append(vline(hx + 3, 675, 689, "#ffffff", dash="solid", w=1.5))

# crosshair (top)
shapes.append(hline(144, 3201, 335, "#eec3c7"))
shapes.append(vline(3188, 180, 587, "#b4b4b4"))
shapes.append(rbox(51, 316, 137, 355, 6, "#c9c9c9"))
ann.append(txt(94, 335.5, "4.27B", size=22, color="#ffffff", anchor="center"))
shapes.append(rbox(3205, 316, 3290, 355, 6, "#c9c9c9"))
ann.append(txt(3247.5, 335.5, "82.81", size=22, color="#ffffff", anchor="center"))
shapes.append(rbox(3083, 587, 3290, 626, 4, "#000000"))
ann.append(txt(3186.5, 606.5, "1 Jul 2026, 05:30", size=22, color="#ffffff", anchor="center"))

# crosshair (bottom)
shapes.append(hline(186, 3219, 1320, "#c2c2c2"))
shapes.append(vline(3209, 944, 1752, "#b4b4b4"))
shapes.append(rbox(100, 1303, 177, 1342, 6, "#c9c9c9"))
ann.append(txt(138.5, 1322.5, "-0.01", size=22, color="#ffffff", anchor="center"))
shapes.append(rbox(3218, 1303, 3305, 1342, 6, "#c9c9c9"))
ann.append(txt(3261.5, 1322.5, "82.95", size=22, color="#ffffff", anchor="center"))
shapes.append(rbox(3104, 1752, 3312, 1793, 4, "#000000"))
ann.append(txt(3208, 1772.5, "1 Jul 2026, 05:30", size=22, color="#ffffff", anchor="center"))

# dropdowns
shapes.append(rbox(2929, 765, 3126, 835, 10, "#f0f2f5", "#dce3ee", 1.5))
ann.append(txt(2954, 800, "SOL", size=25, color="#333"))
shapes.append(dict(type="path", xref="paper", yref="paper", layer="above",
                   path=f"M{X(3081)},{Y(796)} L{X(3097)},{Y(796)} L{X(3089)},{Y(805)} Z",
                   fillcolor="#666", line=dict(width=0)))
shapes.append(rbox(3158, 765, 3365, 835, 10, "#f0f2f5", "#dce3ee", 1.5))
ann.append(txt(3177, 800, "30 minute", size=25, color="#333"))
shapes.append(dict(type="path", xref="paper", yref="paper", layer="above",
                   path=f"M{X(3316)},{Y(795)} L{X(3322)},{Y(788)} L{X(3328)},{Y(795)}",
                   line=dict(color="#555", width=2)))
shapes.append(dict(type="path", xref="paper", yref="paper", layer="above",
                   path=f"M{X(3316)},{Y(805)} L{X(3322)},{Y(812)} L{X(3328)},{Y(805)}",
                   line=dict(color="#555", width=2)))

# bottom chart navigator (cut off at page bottom)
shapes.append(box(2906, 1806, 3205, 1818, "#dfe5f5"))

# top watermark (mostly hidden under tooltip)
shapes.append(dict(type="rect", xref="paper", yref="paper", layer="above",
                   x0=X(2950), x1=X(3185), y0=Y(550), y1=Y(505),
                   fillcolor="rgba(0,0,0,0)", line=dict(width=0),
                   label=dict(text="<b>coinglass</b>", textposition="middle right", padding=0,
                              font=dict(size=34, color="#cfcfcf", family=FONT))))

# top tooltip
shapes += shadow(2735, 378, 3141, 588, clip=762)
shapes.append(rbox(2735, 378, 3141, 588, 12, "#f2f3f6", "#e6e8ec", 1))
shapes.append(circ(2773, 493, 7.5, "#f0bf4c"))
shapes.append(circ(2773, 536, 7.5, "#19c784"))
ann.append(txt(2766, 429, "1 Jul 2026, 05:30", size=27, color="#1e1e1e"))
ann.append(txt(2790, 493, "SOL Price", size=27, color="#333"))
ann.append(txt(3113, 493, "$73.58", size=27, color="#111", anchor="right"))
ann.append(txt(2790, 536, "Open Interest", size=27, color="#333"))
ann.append(txt(3113, 536, "$5.33B", size=27, color="#111", anchor="right"))

# bottom tooltip shadow (under the watermark)
shapes += shadow(2752, 1363, 3164, 1574, n=16, step=8, alpha=0.012)

# bottom watermark
shapes.append(dict(type="path", xref="paper", yref="paper", layer="above",
                   path=(f"M{X(3006)},{Y(1676)} L{X(3014)},{Y(1684)} L{X(3030)},{Y(1684)} "
                         f"L{X(3038)},{Y(1676)} L{X(3036)},{Y(1694)} Q{X(3036)},{Y(1712)} {X(3022)},{Y(1714)} "
                         f"Q{X(3008)},{Y(1712)} {X(3008)},{Y(1694)} Z"),
                   fillcolor="#d2d2d2", line=dict(width=0)))
ann.append(txt(3050, 1694, "<b>coinglass</b>", size=33, color="#cdcdcd"))

# bottom tooltip
shapes.append(rbox(2752, 1363, 3164, 1574, 12, "#f2f3f6", "#e6e8ec", 1))
shapes.append(circ(2791, 1479, 7.5, "#111111"))
shapes.append(circ(2791, 1523, 7.5, "#2fae4e"))
ann.append(txt(2782, 1415, "1 Jul 2026, 05:30", size=27, color="#1e1e1e"))
ann.append(txt(2809, 1479, "SOL Price", size=27, color="#333"))
ann.append(txt(3132, 1479, "$75.42", size=27, color="#111", anchor="right"))
ann.append(txt(2809, 1523, "OI-Weighted", size=27, color="#333"))
ann.append(txt(3132, 1523, "0.0073%", size=27, color="#111", anchor="right"))

fig.update_layout(shapes=shapes, annotations=ann)
fig.write_html(
    "out.html",
    post_script=("document.documentElement.style.margin='0';document.body.style.margin='0';"
                 "document.body.style.padding='0';document.body.style.overflow='hidden';"
                 "document.documentElement.style.overflow='hidden';"),
)
